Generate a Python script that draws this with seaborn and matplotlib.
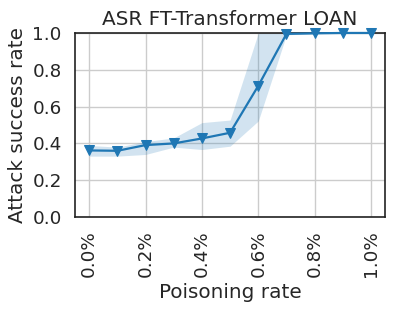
import matplotlib
matplotlib.use("Agg")
import matplotlib.pyplot as plt
import pandas as pd
import seaborn as sns
from matplotlib.ticker import FuncFormatter

# ─── DATA ────────────────────────────────────────────────────────────────────────
poison_rate = [0.0, 0.1, 0.2, 0.3, 0.4, 0.5, 0.6, 0.7, 0.8, 0.9, 1.0]
asr_mean    = [0.362, 0.360, 0.391, 0.400, 0.427, 0.458, 0.713, 0.995, 0.998, 1.0, 1.0]
asr_low     = [0.331, 0.331, 0.340, 0.380, 0.367, 0.385, 0.522, 0.990, 0.996, 1.0, 1.0]
asr_high    = [0.389, 0.380, 0.410, 0.430, 0.513, 0.527, 1.000, 1.000, 1.000, 1.0, 1.0]

df = pd.DataFrame({"rate": poison_rate, "asr": asr_mean})

# ─── PLOT ────────────────────────────────────────────────────────────────────────
sns.set_theme(style="whitegrid", font_scale=1.2)
blue = "#1f77b4"

fig, ax = plt.subplots(figsize=(3.95, 3.11), dpi=100)
fig.subplots_adjust(left=0.19, right=0.975, top=0.894, bottom=0.302)

ax.fill_between(poison_rate, asr_low, asr_high, color=blue, alpha=0.2, linewidth=0)
sns.lineplot(data=df, x="rate", y="asr", marker="v", markersize=7,
             markeredgecolor=blue, color=blue, linewidth=1.6, ax=ax,
             clip_on=False, zorder=3)

for s in ax.spines.values():
    s.set_color("#222222")
    s.set_linewidth(1.2)

ax.set_ylim(0, 1.0)
ax.set_xticks([0.0, 0.2, 0.4, 0.6, 0.8, 1.0])
ax.xaxis.set_major_formatter(FuncFormatter(lambda v, _: f"{v:.1f}%"))
ax.tick_params(axis="x", labelrotation=90)
ax.set_xlabel("Poisoning rate")
ax.set_ylabel("Attack success rate")
ax.set_title("ASR FT-Transformer LOAN")

fig.savefig("out.png", dpi=100)
plt.close(fig)
